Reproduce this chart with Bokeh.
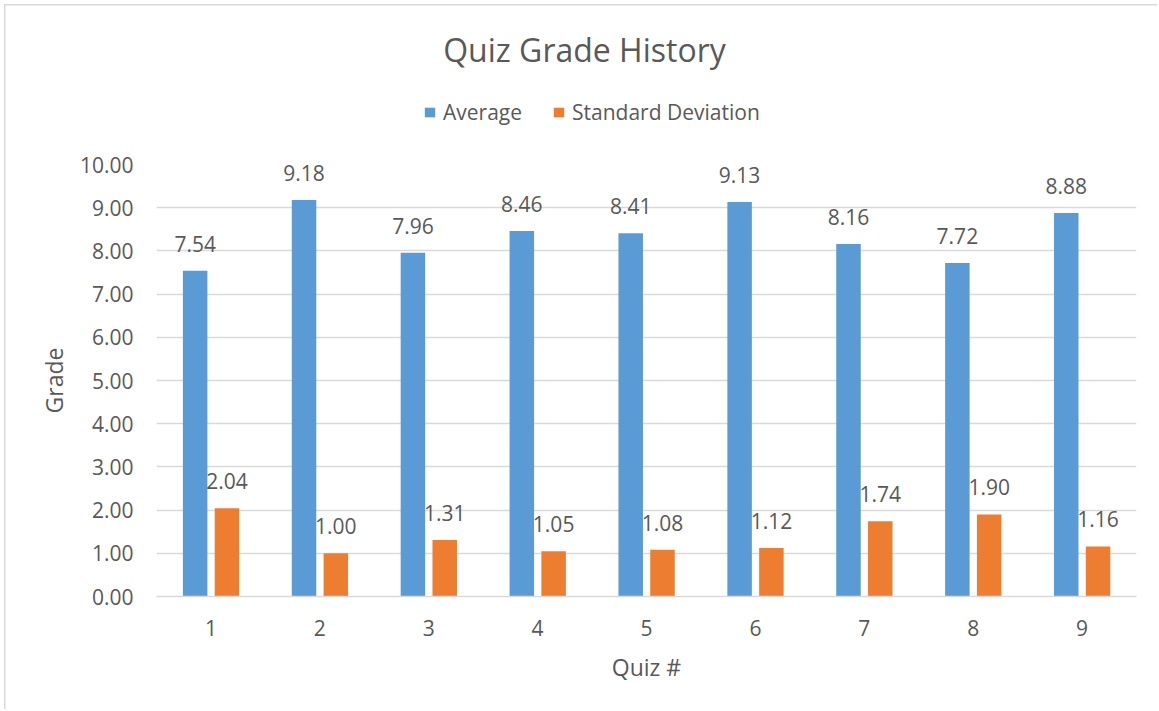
from bokeh.plotting import figure
from bokeh.layouts import column
from bokeh.models import (ColumnDataSource, FixedTicker, NumeralTickFormatter, LabelSet,
                          Label, Legend, LegendItem, Range1d)
from bokeh.transform import dodge
from bokeh.embed import file_html
from bokeh.resources import INLINE
from bokeh.core.properties import value

quizzes = ["1", "2", "3", "4", "5", "6", "7", "8", "9"]
average = [7.54, 9.18, 7.96, 8.46, 8.41, 9.13, 8.16, 7.72, 8.88]
std_dev = [2.04, 1.00, 1.31, 1.05, 1.08, 1.12, 1.74, 1.90, 1.16]
y_ticks = [0, 1, 2, 3, 4, 5, 6, 7, 8, 9, 10]
series_names = ["Average", "Standard Deviation"]
chart_title = "Quiz Grade History"

FONT = "Open Sans"
TXT = "#595959"
BLUE = "#5B9BD5"
ORANGE = "#ED7D31"
W = 1157
TOP_H = 134
FRAME_L, FRAME_R = 156, 1136

src = ColumnDataSource(dict(
    q=quizzes, avg=average, sd=std_dev,
    avg_lbl=[f"{v:.2f}" for v in average],
    sd_lbl=[f"{v:.2f}" for v in std_dev],
))

# ---------- header (title + legend); its frame is aligned with the chart frame ----------
top = figure(width=W, height=TOP_H, x_range=Range1d(FRAME_L, FRAME_R), y_range=Range1d(0, TOP_H),
             x_axis_type=None, y_axis_type=None, min_border=0,
             output_backend="svg", toolbar_location=None,
             background_fill_alpha=0, border_fill_alpha=0)
top.outline_line_color = None
top.xgrid.visible = False
top.ygrid.visible = False

top.add_layout(Label(x=584, y=TOP_H - 48.5, text=chart_title, text_align="center",
                     text_baseline="middle", text_font=FONT, text_font_size="32px",
                     text_color=TXT))

nan = float("nan")
d1 = top.vbar(x=[nan], top=[nan], width=1, fill_color=BLUE, line_color=None)
d2 = top.vbar(x=[nan], top=[nan], width=1, fill_color=ORANGE, line_color=None)
legend = Legend(items=[LegendItem(label=series_names[0], renderers=[d1]),
                       LegendItem(label=series_names[1], renderers=[d2])],
                location=(423 - FRAME_L, 8), orientation="horizontal",
                glyph_width=13, glyph_height=12, label_standoff=7, spacing=30,
                padding=0, margin=0, border_line_color=None,
                background_fill_alpha=0, label_text_font=FONT,
                label_text_font_size="21px", label_text_color=TXT,
                label_height=24)
top.add_layout(legend)

# ---------- main chart ----------
p = figure(x_range=quizzes, y_range=Range1d(0, 10),
           frame_width=980, frame_height=432,
           min_border_left=156, min_border_right=21,
           min_border_top=30, min_border_bottom=113,
           output_backend="svg", toolbar_location=None,
           background_fill_color="white", border_fill_alpha=0)
p.outline_line_color = None

p.vbar(x=dodge("q", -0.145, range=p.x_range), top="avg", width=0.225,
       source=src, fill_color=BLUE, line_color=None)
p.vbar(x=dodge("q", 0.147, range=p.x_range), top="sd", width=0.225,
       source=src, fill_color=ORANGE, line_color=None)

for col, lbl, off in (("avg", "avg_lbl", -0.145), ("sd", "sd_lbl", 0.147)):
    p.add_layout(LabelSet(x=dodge("q", off, range=p.x_range), y=col, text=lbl,
                          source=src, y_offset=19, text_align="center",
                          text_baseline="alphabetic", text_font=value(FONT),
                          text_font_size="21px", text_color=TXT))

p.xgrid.grid_line_color = None
p.ygrid.grid_line_color = "#D9D9D9"
p.ygrid.grid_line_width = 1.5
p.ygrid.ticker = FixedTicker(ticks=y_ticks)

p.yaxis.ticker = FixedTicker(ticks=y_ticks)
p.yaxis.formatter = NumeralTickFormatter(format="0.00")
p.yaxis.axis_line_color = None
p.yaxis.major_tick_line_color = None
p.yaxis.minor_tick_line_color = None
p.yaxis.major_label_standoff = 17
p.yaxis.major_label_text_font = FONT
p.yaxis.major_label_text_font_size = "21px"
p.yaxis.major_label_text_color = TXT
p.yaxis.axis_label = "Grade"
p.yaxis.axis_label_standoff = 7
p.yaxis.axis_label_text_font = FONT
p.yaxis.axis_label_text_font_size = "23px"
p.yaxis.axis_label_text_font_style = "normal"
p.yaxis.axis_label_text_color = TXT

p.xaxis.axis_line_color = "#D9D9D9"
p.xaxis.axis_line_width = 1.5
p.xaxis.major_tick_line_color = None
p.xaxis.minor_tick_line_color = None
p.xaxis.major_label_standoff = 17
p.xaxis.major_label_text_font = FONT
p.xaxis.major_label_text_font_size = "21px"
p.xaxis.major_label_text_color = TXT
p.xaxis.axis_label = "Quiz #"
p.xaxis.axis_label_standoff = 12
p.xaxis.axis_label_text_font = FONT
p.xaxis.axis_label_text_font_size = "23px"
p.xaxis.axis_label_text_font_style = "normal"
p.xaxis.axis_label_text_color = TXT

# chart-area border (left and top edges, as in the reference crop)
layout = column(top, p, spacing=0,
                styles={"box-shadow": "inset 4px 4px 0 0 #FFFFFF, inset 5.5px 5.5px 0 0 #D9D9D9",
                        "background-color": "#FFFFFF"})
open("out.html", "w").write(file_html(layout, INLINE))
